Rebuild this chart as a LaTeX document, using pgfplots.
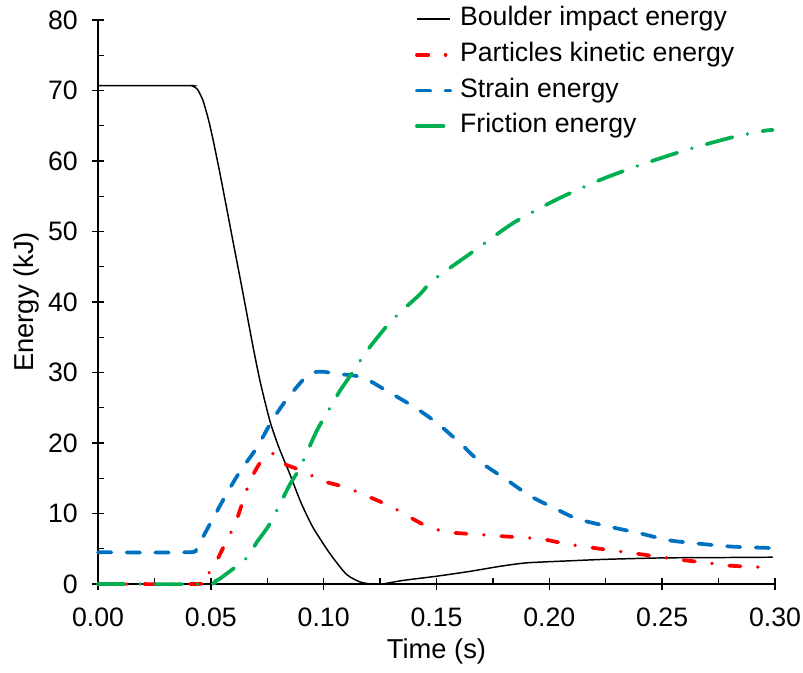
\documentclass[border=0pt]{standalone}
\usepackage{pgfplots}
\pgfplotsset{compat=1.18}
\usepackage{fontspec}
\setmainfont{Liberation Sans}
\definecolor{cred}{RGB}{255,0,0}
\definecolor{cblue}{RGB}{0,112,192}
\definecolor{cgreen}{RGB}{0,176,80}
\begin{document}
\begin{tikzpicture}
\useasboundingbox (-73.5pt,-66.75pt) rectangle (528.75pt,438pt);
\begin{axis}[
  at={(0pt,0pt)}, anchor=south west,
  scale only axis, width=507.75pt, height=423pt,
  xmin=0, xmax=0.3, ymin=0, ymax=80,
  axis lines=left, axis line style={-, line width=1.1pt},
  xtick={0,0.05,0.1,0.15,0.2,0.25,0.3},
  ytick={0,10,...,80},
  minor x tick num=1, minor y tick num=1,
  tick align=center, major tick length=9pt, minor tick length=4.5pt,
  every tick/.style={black, line width=1.1pt},
  minor x tick style={yshift=2.25pt},
  minor y tick style={xshift=2.25pt},
  /pgf/number format/assume math mode=true,
  xticklabel style={/pgf/number format/.cd, fixed, fixed zerofill, precision=2, /tikz/.cd,
     font=\fontsize{20}{20}\selectfont, anchor=center, yshift=-20.6pt},
  yticklabel style={font=\fontsize{20}{20}\selectfont, anchor=east, inner sep=0pt, xshift=-10.5pt},
  xlabel={Time (s)}, ylabel={Energy (kJ)},
  label style={font=\fontsize{20.5}{20.5}\selectfont},
  xlabel style={at={(axis description cs:0.5,-0.119)}, anchor=center},
  ylabel style={at={(axis description cs:-0.1063,0.5)}, anchor=center},
  clip=false,
  legend cell align=left,
  legend image code/.code={\draw[#1] (0pt,0pt) -- (25pt,0pt);},
  legend style={at={(rel axis cs:0.462,1.028)}, anchor=north west, draw=none, fill=none,
     font=\fontsize{20}{20}\selectfont, row sep=8.8pt,
     nodes={inner sep=0pt, text height=14pt, text depth=4pt}, column sep=6pt},
]
\addplot[black, line width=1.1pt, smooth, tension=0.4] coordinates {
(0,70.7) (0.040,70.7) (0.042,70.6) (0.044,70.2) (0.0465,68.6) (0.049,65.8) (0.051,63.0)
(0.054,58.3) (0.0563,54.5) (0.060,48.3) (0.0638,42.0) (0.0688,33.5) (0.072,28.5)
(0.0762,23.1) (0.080,19.5) (0.085,15.6) (0.090,11.5) (0.0953,8.0) (0.1028,4.3)
(0.110,1.4) (0.116,0.3) (0.121,0.0) (0.126,0.0) (0.135,0.5) (0.150,1.1) (0.165,1.8)
(0.178,2.5) (0.19,3.0) (0.21,3.3) (0.225,3.5) (0.250,3.7) (0.275,3.75) (0.299,3.8)
};
\addlegendentry{Boulder impact energy}
\addplot[cred, line width=2.8pt, line cap=round, dash pattern=on 8.5pt off 13pt on 0.01pt off 13pt, smooth, tension=0.4] coordinates {
(0,0) (0.044,0) (0.0452,0.4) (0.048,1.2) (0.051,2.3) (0.0554,5.1) (0.0607,8.5)
(0.0643,11.8) (0.0673,14.6) (0.0718,17.2) (0.0753,18.3) (0.078,18.5) (0.0814,17.2)
(0.0908,16.0) (0.0997,14.6) (0.110,13.7) (0.119,12.5) (0.1264,11.5) (0.131,10.8)
(0.138,9.5) (0.147,8.0) (0.1567,7.3) (0.1678,7.05) (0.1774,6.8) (0.1885,6.6)
(0.198,6.3) (0.209,5.6) (0.227,4.8) (0.2387,4.3) (0.25,3.8) (0.259,3.4) (0.27,3.0)
(0.28,2.6) (0.293,2.4) (0.299,2.4)
};
\addlegendentry{Particles kinetic energy}
\addplot[cblue, line width=2.8pt, line cap=round, dash pattern=on 10pt off 11.5pt, smooth, tension=0.4] coordinates {
(0,4.5) (0.040,4.5) (0.0437,5.1) (0.0496,8.5) (0.057,12.8) (0.063,16.0) (0.0703,19.3)
(0.077,23.1) (0.0836,26.2) (0.091,29.0) (0.0953,30.0) (0.100,30.1) (0.106,29.8)
(0.1146,29.5) (0.1205,28.8) (0.1279,27.4) (0.1397,25.2) (0.150,22.9) (0.1604,20.0)
(0.169,17.4) (0.181,14.8) (0.1914,12.5) (0.2032,10.6) (0.2127,9.2) (0.227,8.1)
(0.240,7.2) (0.253,6.2) (0.267,5.7) (0.281,5.3) (0.299,5.1)
};
\addlegendentry{Strain energy}
\addplot[cgreen, line width=2.8pt, line cap=round, dash pattern=on 20pt off 11.5pt on 0.01pt off 11.5pt, smooth, tension=0.4] coordinates {
(0,0) (0.048,0) (0.052,0.4) (0.0555,1.1) (0.0659,3.7) (0.0703,5.9) (0.0755,8.2)
(0.0806,11.3) (0.085,14.1) (0.0895,16.5) (0.0969,21.7) (0.1028,25.0) (0.1072,27.4)
(0.1117,29.5) (0.119,33.0) (0.128,36.6) (0.1338,38.5) (0.1427,41.1) (0.1485,43.1)
(0.166,47.1) (0.184,51.2) (0.203,54.5) (0.2224,57.3) (0.240,59.4) (0.261,61.6)
(0.2815,63.4) (0.2955,64.3) (0.299,64.4)
};
\addlegendentry{Friction energy}
\end{axis}
\end{tikzpicture}
\end{document}
